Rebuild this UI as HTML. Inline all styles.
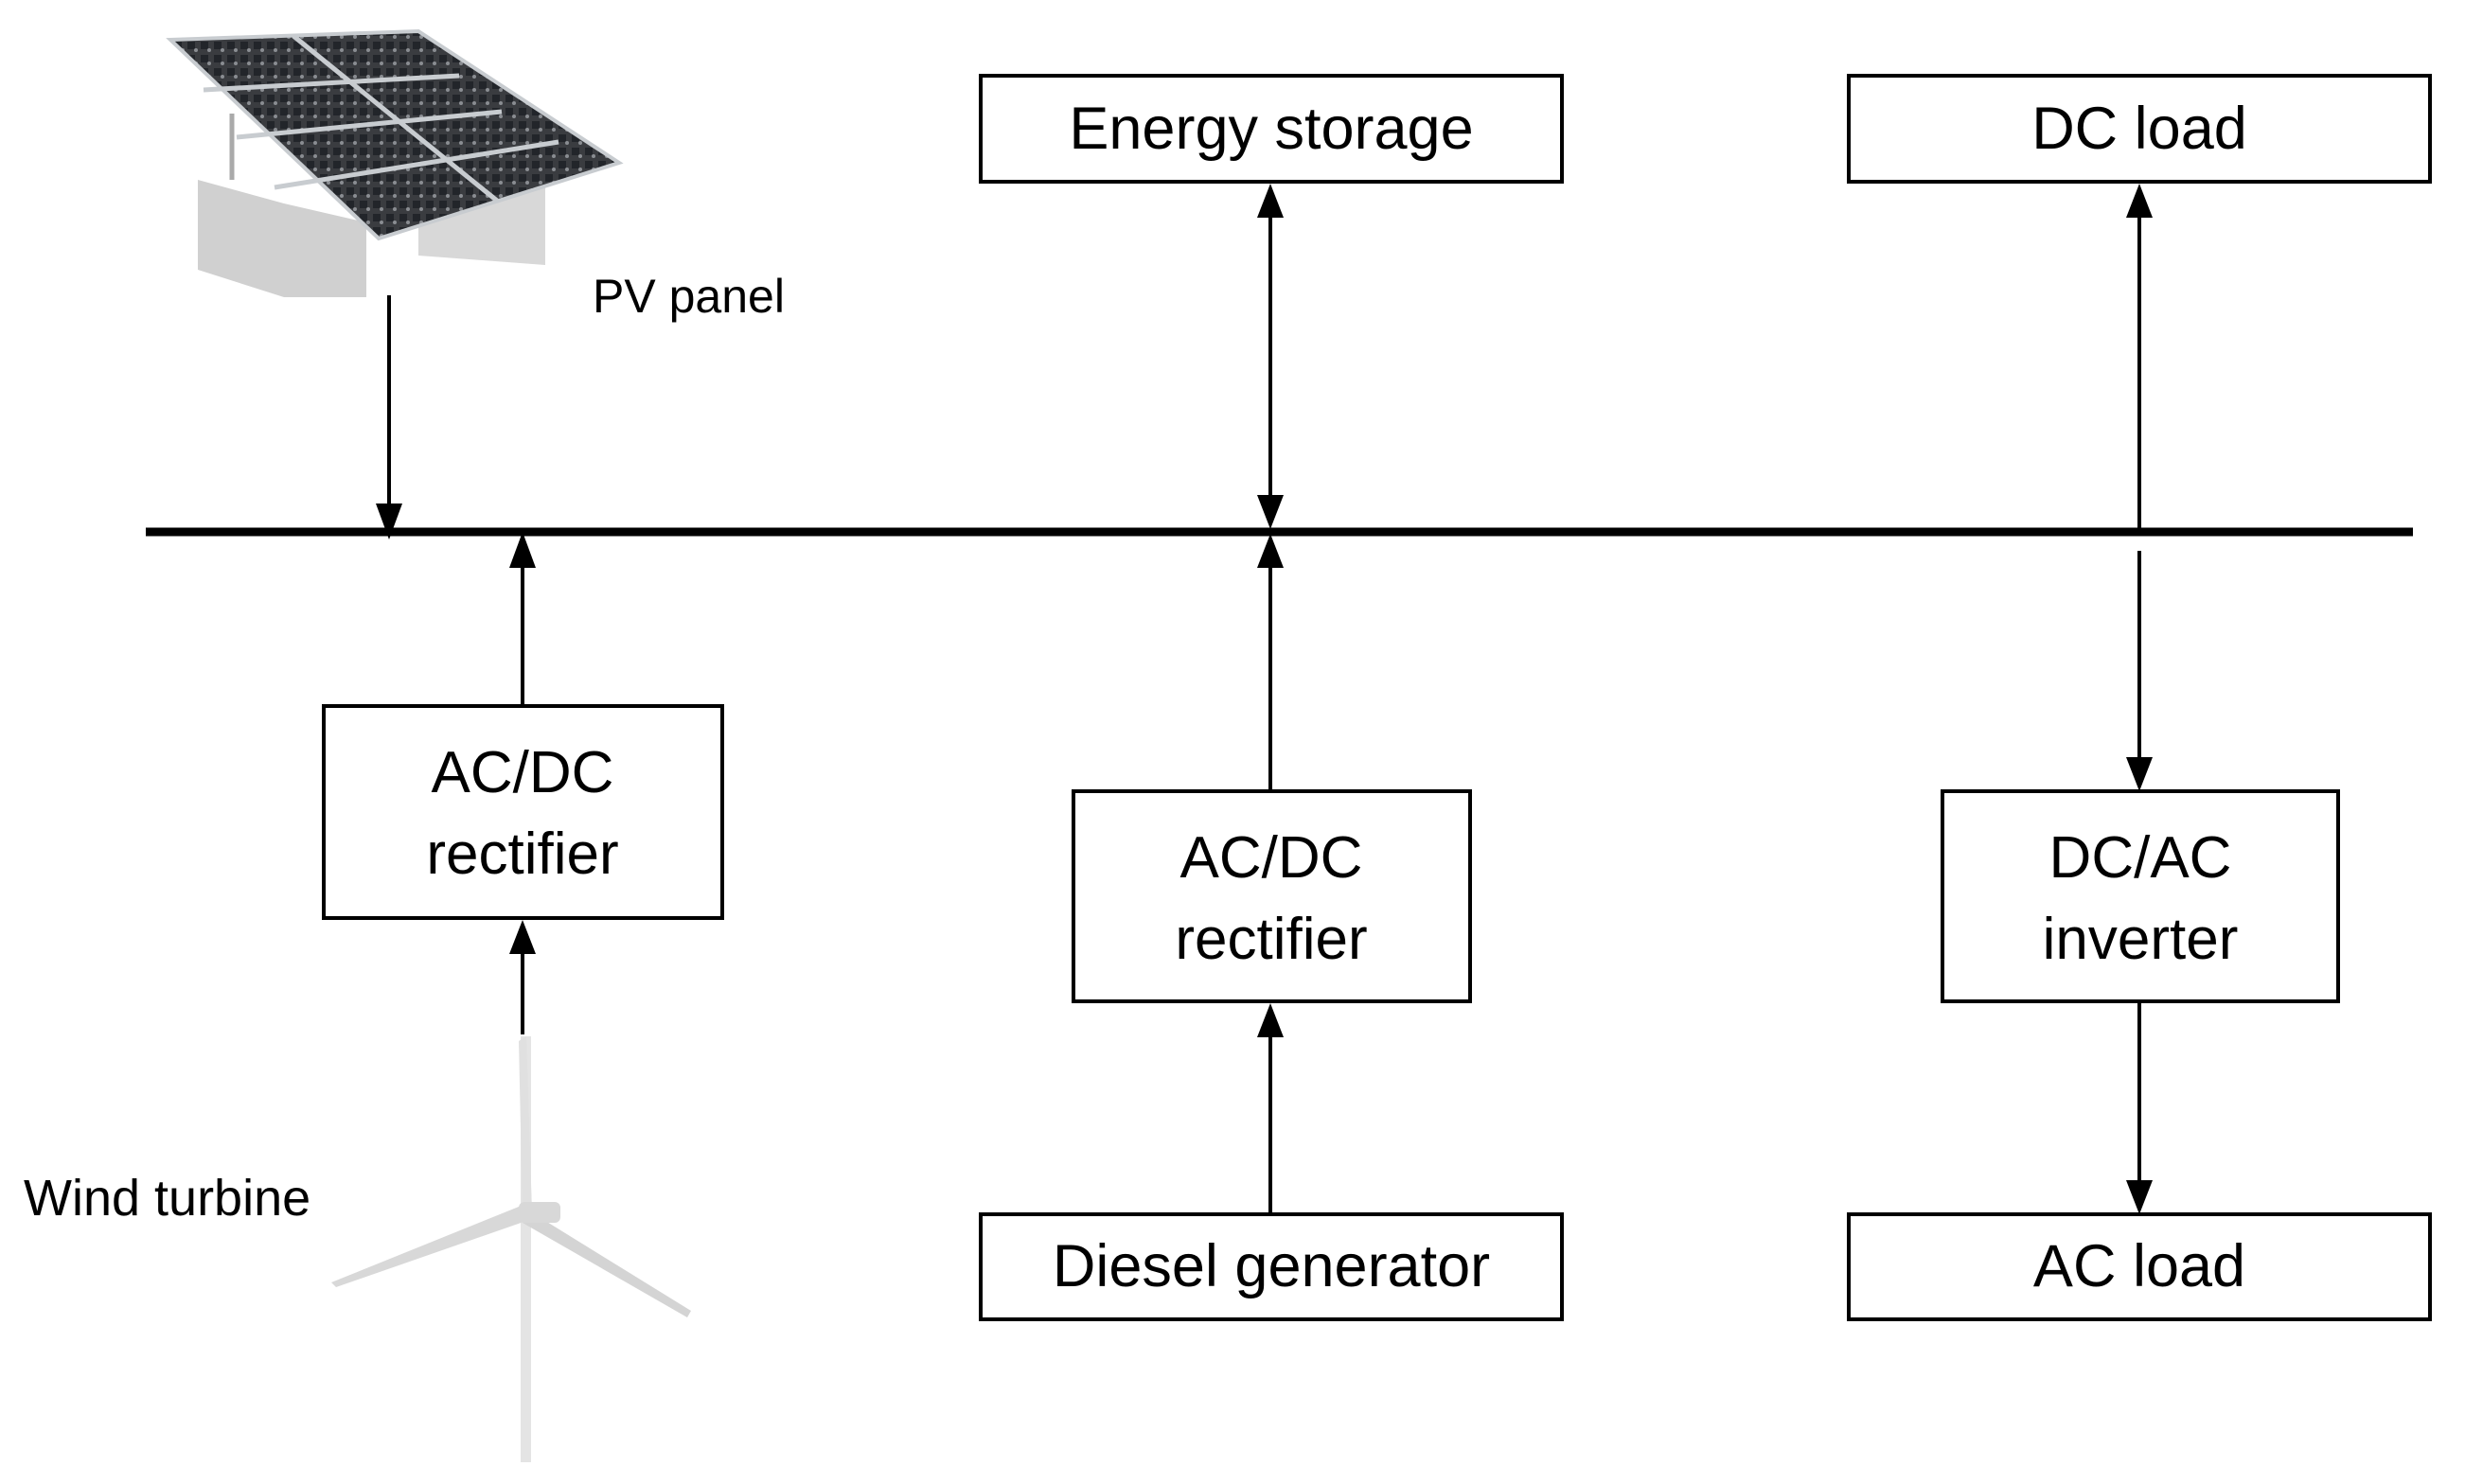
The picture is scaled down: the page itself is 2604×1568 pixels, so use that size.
<!DOCTYPE html>
<html><head><meta charset="utf-8"><style>
html,body{margin:0;padding:0;background:#fff;}
svg{display:block}
text{font-family:"Liberation Sans",sans-serif;fill:#000}
</style></head><body>
<svg width="2604" height="1568" viewBox="0 0 2604 1568" xmlns="http://www.w3.org/2000/svg">
<defs>
<pattern id="cells" width="14" height="14" patternUnits="userSpaceOnUse"><rect width="14" height="14" fill="#3a3c40"/><rect x="2" y="2" width="8" height="8" fill="#22252a"/><circle cx="11" cy="11" r="2" fill="#8a8d92"/></pattern>
</defs>
<!-- PV panel drawing -->
<polygon points="209,190 300,215 387,235 387,314 300,314 209,285" fill="#d0d0d0"/>
<polygon points="442,200 576,185 576,280 442,270" fill="#d8d8d8"/>
<line x1="245" y1="190" x2="245" y2="120" stroke="#aaa" stroke-width="5"/>
<polygon points="180,42 442,33 654,172 400,252" fill="url(#cells)" stroke="#c8ccd0" stroke-width="4"/>
<line x1="310" y1="38" x2="525" y2="212" stroke="#c8ccd0" stroke-width="5"/>
<line x1="215" y1="95" x2="485" y2="80" stroke="#c8ccd0" stroke-width="5"/>
<line x1="250" y1="145" x2="530" y2="118" stroke="#c8ccd0" stroke-width="5"/>
<line x1="290" y1="198" x2="590" y2="150" stroke="#c8ccd0" stroke-width="5"/>
<text x="626" y="330" font-size="50">PV panel</text>
<!-- bus -->
<line x1="154" y1="562" x2="2549" y2="562" stroke="#000" stroke-width="9"/>
<!-- PV arrow -->
<line x1="411" y1="312" x2="411" y2="536" stroke="#000" stroke-width="4"/>
<polygon points="397,532 425,532 411,570" fill="#000"/>
<!-- wind arrow to bus -->
<line x1="552" y1="746" x2="552" y2="596" stroke="#000" stroke-width="4"/>
<polygon points="538,600 566,600 552,562" fill="#000"/>
<!-- wind rectifier -->
<rect x="342" y="746" width="421" height="224" fill="#fff" stroke="#000" stroke-width="4"/>
<text x="552" y="837" font-size="62" text-anchor="middle">AC/DC</text>
<text x="552" y="923" font-size="62" text-anchor="middle">rectifier</text>
<line x1="552" y1="1093" x2="552" y2="1002" stroke="#000" stroke-width="4"/>
<polygon points="538,1008 566,1008 552,972" fill="#000"/>
<!-- wind turbine -->
<rect x="550" y="1095" width="11" height="450" fill="#e4e4e4"/>
<polygon points="548,1100 556,1095 562,1280 552,1285" fill="#e0e0e0"/>
<polygon points="355,1360 350,1355 548,1275 556,1290" fill="#d8d8d8"/>
<polygon points="560,1280 730,1385 726,1392 552,1292" fill="#d4d4d4"/>
<rect x="548" y="1270" width="44" height="22" rx="6" fill="#d8d8d8"/>
<text x="25" y="1284" font-size="54">Wind turbine</text>
<!-- energy storage -->
<rect x="1036" y="80" width="614" height="112" fill="#fff" stroke="#000" stroke-width="4"/>
<text x="1343" y="157" font-size="63" text-anchor="middle">Energy storage</text>
<line x1="1342" y1="228" x2="1342" y2="526" stroke="#000" stroke-width="4"/>
<polygon points="1328,230 1356,230 1342,194" fill="#000"/>
<polygon points="1328,523 1356,523 1342,559" fill="#000"/>
<!-- diesel branch -->
<line x1="1342" y1="836" x2="1342" y2="596" stroke="#000" stroke-width="4"/>
<polygon points="1328,600 1356,600 1342,564" fill="#000"/>
<rect x="1134" y="836" width="419" height="222" fill="#fff" stroke="#000" stroke-width="4"/>
<text x="1343" y="927" font-size="62" text-anchor="middle">AC/DC</text>
<text x="1343" y="1013" font-size="62" text-anchor="middle">rectifier</text>
<line x1="1342" y1="1283" x2="1342" y2="1092" stroke="#000" stroke-width="4"/>
<polygon points="1328,1096 1356,1096 1342,1060" fill="#000"/>
<rect x="1036" y="1283" width="614" height="111" fill="#fff" stroke="#000" stroke-width="4"/>
<text x="1343" y="1359" font-size="63" text-anchor="middle">Diesel generator</text>
<!-- DC load -->
<rect x="1953" y="80" width="614" height="112" fill="#fff" stroke="#000" stroke-width="4"/>
<text x="2260" y="157" font-size="63" text-anchor="middle">DC load</text>
<line x1="2260" y1="228" x2="2260" y2="562" stroke="#000" stroke-width="4"/>
<polygon points="2246,230 2274,230 2260,194" fill="#000"/>
<line x1="2260" y1="582" x2="2260" y2="805" stroke="#000" stroke-width="4"/>
<polygon points="2246,800 2274,800 2260,836" fill="#000"/>
<rect x="2052" y="836" width="418" height="222" fill="#fff" stroke="#000" stroke-width="4"/>
<text x="2261" y="927" font-size="62" text-anchor="middle">DC/AC</text>
<text x="2261" y="1013" font-size="62" text-anchor="middle">inverter</text>
<line x1="2260" y1="1058" x2="2260" y2="1251" stroke="#000" stroke-width="4"/>
<polygon points="2246,1247 2274,1247 2260,1283" fill="#000"/>
<rect x="1953" y="1283" width="614" height="111" fill="#fff" stroke="#000" stroke-width="4"/>
<text x="2260" y="1359" font-size="63" text-anchor="middle">AC load</text>
</svg>
</body></html>
